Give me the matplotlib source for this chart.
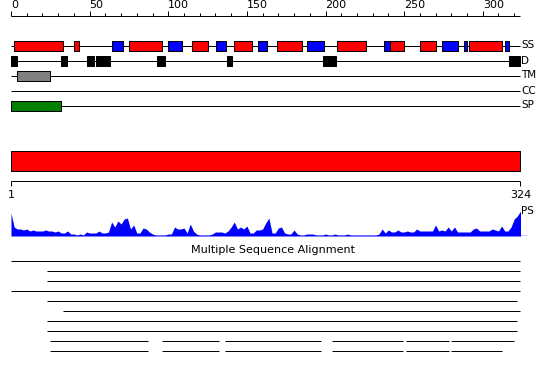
import matplotlib
matplotlib.use('Agg')
import matplotlib.pyplot as plt

seq_len = 324

# secondary structure (residue start, end)
helix = [(2, 33), (40, 43.5), (75, 96), (115, 125.5), (141.5, 153.5), (169, 185),
         (207.5, 226), (241, 250), (260, 270), (291.5, 312)]
strand = [(64.5, 71.5), (100, 108.5), (130.5, 136.5), (157, 162.5), (188.5, 199),
          (237, 241), (274, 284.5), (288, 290), (314, 317)]
disorder = [(0, 3.5), (32, 35.5), (48.5, 52.5), (54, 61.5), (62, 63), (93, 98),
            (137.5, 140.5), (198.5, 206.5), (316.5, 324)]
transmem = [(3.5, 25)]
coiled = []
signal = [(0, 31.5)]
track_names = ['SS', 'D', 'TM', 'CC', 'SP']

domain = [(0, 324)]

# PS profile, one value every 2 residues
ps_step = 2
ps_score = [23, 9, 7, 7, 6, 7, 5, 6, 5, 5, 5, 6, 5, 5, 4, 5, 3, 3, 5, 2,
            2, 1, 2, 1, 4, 3, 3, 3, 5, 3, 3, 4, 14, 9, 15, 12, 17, 18, 7, 11,
            3, 3, 8, 7, 4, 2, 1, 1, 1, 1, 2, 2, 9, 7, 7, 8, 3, 12, 5, 2,
            1, 1, 1, 1, 2, 4, 4, 4, 3, 5, 9, 14, 7, 9, 7, 10, 3, 3, 6, 6,
            7, 13, 18, 3, 3, 8, 9, 3, 2, 2, 6, 2, 1, 1, 2, 2, 2, 1, 1, 1,
            2, 1, 1, 2, 1, 1, 1, 2, 1, 1, 1, 1, 1, 1, 1, 1, 1, 2, 7, 3,
            6, 4, 4, 6, 4, 4, 5, 4, 4, 7, 5, 5, 5, 5, 5, 11, 5, 6, 5, 9,
            5, 9, 4, 4, 4, 4, 4, 7, 8, 5, 5, 5, 5, 7, 6, 5, 10, 5, 5, 9,
            17, 20, 25]

# multiple sequence alignment rows, each a list of aligned segments
msa_rows = [
    [(0, 324)],
    [(23, 324)],
    [(23, 324)],
    [(0, 324)],
    [(23, 322)],
    [(33, 324)],
    [(23, 322)],
    [(23, 322)],
    [(24.5, 87), (96, 132.5), (136, 197), (204, 249.5), (251.5, 278.5), (279.5, 320)],
    [(24.5, 87), (96, 132.5), (136, 197), (204, 249.5), (251.5, 278.5), (279.5, 312)],
]

px_per_res = 509.5 / seq_len
lw = 0.72
fs = 8

fig = plt.figure(figsize=(5.5, 3.8), dpi=100)
ax = fig.add_axes([0, 0, 1, 1])
ax.set_xlim(-11 / px_per_res, 539 / px_per_res)
ax.set_ylim(380, 0)
ax.axis('off')


def boxes(segs, y, h, color):
    if segs:
        ax.broken_barh([(s, e - s) for s, e in segs], (y - h / 2, h),
                       facecolors=color, edgecolors='black', linewidth=lw, zorder=3)


# top ruler
ax.hlines(15.5, 0, seq_len, color='black', lw=lw)
for t in range(0, seq_len, 10):
    top = 10.5 if t % 50 == 0 else 12.5
    ax.vlines(t, top, 15.5, color='black', lw=lw)
    if t % 50 == 0:
        ax.text(t, 10, str(t), fontsize=fs, ha='left', va='bottom')

# feature tracks
track_y = [45.5, 60.5, 75.5, 90.5, 105.5]
for y, name in zip(track_y, track_names):
    ax.hlines(y, 0, seq_len, color='black', lw=lw)
    ax.text(seq_len + 0.3, y, name, fontsize=7.5, ha='left', va='center')
boxes(helix, track_y[0], 10, '#ff0000')
boxes(strand, track_y[0], 10, '#0000ff')
boxes(disorder, track_y[1], 10, 'black')
boxes(transmem, track_y[2], 10, '#808080')
boxes(coiled, track_y[3], 10, '#ffff00')
boxes(signal, track_y[4], 10, '#008000')

# domain bar
boxes(domain, 160.5, 20, '#ff0000')

# lower ruler
ax.hlines(180.5, 0, seq_len, color='black', lw=lw)
ax.vlines([0, seq_len], 180.5, 185.5, color='black', lw=lw)
ax.text(0, 195, '1', fontsize=fs, ha='center', va='center')
ax.text(seq_len, 195, str(seq_len), fontsize=fs, ha='center', va='center')

# PS profile
ax_ps = fig.add_axes([0, (380 - 236) / 380, 1, 30 / 380])
ax_ps.set_xlim(ax.get_xlim())
ax_ps.set_ylim(0, 30)
ax_ps.axis('off')
ps_x = [i * ps_step for i in range(len(ps_score))]
ax_ps.fill_between(ps_x, 0, ps_score, color='#0000ff', lw=0)
ax_ps.hlines(0.5, 0, 328, color='#0000ff', lw=1)
ax.text(seq_len + 0.5, 211, 'PS', fontsize=7.5, ha='left', va='center')

# multiple sequence alignment
ax.text(166.5, 250, 'Multiple Sequence Alignment', fontsize=8,
        ha='center', va='center')
for i, row in enumerate(msa_rows):
    y = 260.5 + 10 * i
    for s, e in row:
        ax.hlines(y, s, e, color='black', lw=lw)

fig.savefig('out.png', dpi=100)
